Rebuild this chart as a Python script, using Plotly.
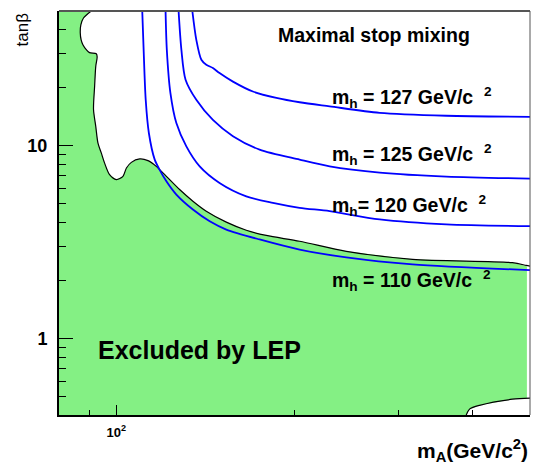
import numpy as np
import plotly.graph_objects as go

# ---------------- data ----------------
# m_h contours: m_A (GeV/c^2) vs tan(beta)
mA_110 = [110.6, 111.2, 112.1, 113.5, 116.1, 118.3, 121.5, 126.3, 134.7, 143.8, 153.4, 174.6, 204.0, 244.7, 316.6, 500]
tb_110 = [50, 31.4, 17.3, 11.6, 8.46, 7.51, 6.53, 5.57, 4.66, 4.05, 3.67, 3.26, 2.89, 2.63, 2.42, 2.26]

mA_120 = [121.1, 121.7, 123.4, 126.3, 131.3, 138.3, 149.4, 165.8, 183.9, 204.0, 229.3, 278.6, 361.0, 500]
tb_120 = [50, 31.4, 18.8, 13.1, 9.92, 7.81, 6.41, 5.46, 5.05, 4.76, 4.57, 4.14, 3.90, 3.82]

mA_125 = [127.4, 128.8, 130.9, 136.5, 145.6, 157.4, 174.6, 204.0, 229.3, 278.6, 361.0, 500]
tb_125 = [50, 31.4, 22.0, 17.3, 13.6, 11.2, 9.54, 8.46, 7.81, 7.25, 6.91, 6.75]

mA_127 = [134.4, 136.5, 139.2, 141.9, 145.6, 149.4, 157.4, 170.1, 186.4, 204.0, 229.3, 278.6, 361.0, 500]
tb_127 = [50, 35.4, 27.9, 26.3, 25.3, 23.8, 21.5, 19.1, 17.7, 16.8, 16.0, 14.8, 14.3, 14.1]

# LEP excluded-region boundary (upper part)
mA_lep = [90.7, 88.0, 87.1, 86.9, 87.2, 87.8, 89.1, 90.1, 92.5, 92.8, 92.3, 91.9, 91.5, 92.3, 93.1, 94.3,
          95.5, 97.4, 100.0, 102.6, 104.0, 106.0, 109.5, 113.1, 116.8, 121.5, 127.9, 134.7, 141.9,
          153.4, 165.8, 179.2, 204.0, 244.7, 316.6, 467.0, 492.6, 500]
tb_lep = [50, 46.0, 42.4, 38.5, 35.4, 33.4, 31.3, 30.4, 30.0, 28.9, 25.8, 20.4, 15.4, 12.6, 10.3, 9.17,
          8.14, 7.07, 6.67, 6.93, 7.66, 8.19, 8.53, 8.36, 7.81, 6.93, 5.92, 5.15, 4.57,
          4.01, 3.64, 3.42, 3.19, 2.83, 2.57, 2.47, 2.39, 2.37]

# small allowed corner at high m_A, low tan(beta)
mA_br = [390.1, 395.2, 410.9, 467.0, 500]
tb_br = [0.40, 0.429, 0.449, 0.483, 0.489]
green_right = 494.0

x_range = [80, 500]
y_range = [0.4, 50]
x_major = [100]
x_major_text = ["10<sup>2</sup>"]
x_minor = [90, 200, 300, 400]
y_major = [1, 10]
y_major_text = ["1", "10"]
y_minor = [0.5, 0.6, 0.7, 0.8, 0.9, 2, 3, 4, 5, 6, 7, 8, 9, 20, 30, 40]

contour_labels = [
    ("m<sub>h</sub> = 127 GeV/c  <sup>2</sup>", 0.787),
    ("m<sub>h</sub> = 125 GeV/c  <sup>2</sup>", 0.6436),
    ("m<sub>h</sub>= 120 GeV/c  <sup>2</sup>", 0.5198),
    ("m<sub>h</sub> = 110 GeV/c  <sup>2</sup>", 0.3317),
]

FONT = "Liberation Sans, Arial, Helvetica, sans-serif"
GREEN = "rgb(132,240,132)"

# ---------------- figure ----------------
fig = go.Figure()

# excluded region polygon
fx = [x_range[0]] + [x for x in mA_lep if x <= green_right] + [green_right, green_right]
fy = [y_range[1]] + [y for x, y in zip(mA_lep, tb_lep) if x <= green_right] + [tb_lep[-1], tb_br[-1]]
for x, y in sorted(zip(mA_br, tb_br), reverse=True):
    if x < green_right:
        fx.append(x)
        fy.append(y)
fx += [x_range[0]]
fy += [y_range[0]]
fig.add_trace(go.Scatter(x=fx, y=fy, mode="lines", fill="toself", fillcolor=GREEN,
                         line=dict(width=0, color=GREEN), hoverinfo="skip", showlegend=False))

# boundary lines
fig.add_trace(go.Scatter(x=mA_lep, y=tb_lep, mode="lines", line=dict(color="black", width=1.2, shape="spline", smoothing=0.8),
                         showlegend=False))
fig.add_trace(go.Scatter(x=mA_br, y=tb_br, mode="lines", line=dict(color="black", width=1.2, shape="spline", smoothing=0.8),
                         showlegend=False))

for xs, ys in [(mA_110, tb_110), (mA_120, tb_120), (mA_125, tb_125), (mA_127, tb_127)]:
    fig.add_trace(go.Scatter(x=xs, y=ys, mode="lines",
                             line=dict(color="#0000ff", width=1.8, shape="spline", smoothing=0.8),
                             showlegend=False))

L, R, T, B = 59, 4, 11, 49
fig.update_layout(
    width=534, height=464, autosize=False,
    margin=dict(l=L, r=R, t=T, b=B, pad=0),
    paper_bgcolor="white", plot_bgcolor="white",
    font=dict(family=FONT, color="black"),
    showlegend=False,
)
fig.update_xaxes(
    type="log", range=[np.log10(x_range[0]), np.log10(x_range[1])],
    showgrid=False, zeroline=False,
    tickmode="array", tickvals=x_major, ticktext=x_major_text,
    ticks="inside", ticklen=10, tickwidth=1, tickcolor="black",
    tickfont=dict(size=13, family=FONT, weight="bold"),
    ticklabelstandoff=4,
    minor=dict(tickmode="array", tickvals=x_minor, ticks="inside", ticklen=5, tickwidth=1, tickcolor="black", showgrid=False),
    showline=True, linecolor="black", linewidth=2, mirror=False,
)
fig.update_yaxes(
    type="log", range=[np.log10(y_range[0]), np.log10(y_range[1])],
    showgrid=False, zeroline=False,
    tickmode="array", tickvals=y_major, ticktext=y_major_text,
    ticks="inside", ticklen=14, tickwidth=1.2, tickcolor="black",
    tickfont=dict(size=18, family=FONT, weight="bold"),
    ticklabelstandoff=6,
    minor=dict(tickmode="array", tickvals=y_minor, ticks="inside", ticklen=7, tickwidth=1, tickcolor="black", showgrid=False),
    showline=True, linecolor="black", linewidth=2, mirror=False,
)

# top / right frame
fig.add_shape(type="line", xref="paper", yref="paper", x0=0, x1=1, y0=1, y1=1, line=dict(color="#555", width=2))
fig.add_shape(type="line", xref="paper", yref="paper", x0=1, x1=1, y0=0, y1=1, line=dict(color="#555", width=1))

# texts
fig.add_annotation(text="Maximal stop mixing", xref="paper", yref="paper", x=0.4607, y=0.9406,
                   xanchor="left", yanchor="middle", showarrow=False,
                   font=dict(size=19.5, family=FONT, weight="bold"))
for txt, yy in contour_labels:
    fig.add_annotation(text=txt, xref="paper", yref="paper", x=0.5754, y=yy,
                       xanchor="left", yanchor="middle", showarrow=False,
                       font=dict(size=19.5, family=FONT, weight="bold"))
fig.add_annotation(text="Excluded by LEP", xref="paper", yref="paper", x=0.0786, y=0.162,
                   xanchor="left", yanchor="middle", showarrow=False,
                   font=dict(size=25, family=FONT, weight="bold"))
fig.add_annotation(text="m<sub>A</sub>(GeV/c<sup>2</sup>)", xref="paper", yref="paper", x=1.0, y=-0.087,
                   xanchor="right", yanchor="middle", showarrow=False,
                   font=dict(size=21, family=FONT, weight="bold"))
fig.add_annotation(text="tanβ", xref="paper", yref="paper", x=-0.078, y=0.955,
                   xanchor="center", yanchor="middle", textangle=-90, showarrow=False,
                   font=dict(size=17, family=FONT))

fig.write_html("out.html")
